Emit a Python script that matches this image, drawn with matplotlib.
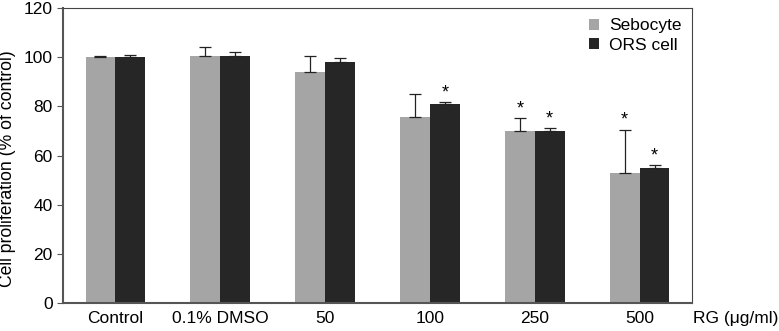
import numpy as np
import matplotlib.pyplot as plt

plt.rcParams['font.family'] = ['Liberation Sans', 'DejaVu Sans']

groups = ['Control', '0.1% DMSO', '50', '100', '250', '500']
sebocyte = [100, 100.5, 94, 75.5, 70, 53]
sebocyte_err = [0.3, 3.5, 6.6, 9.5, 5.3, 17.5]
ors = [100, 100.5, 98.2, 80.8, 70, 55]
ors_err = [1.0, 1.5, 1.3, 1.0, 1.0, 1.0]
seb_star = [False, False, False, False, True, True]
ors_star = [False, False, False, True, True, True]

fig = plt.figure(figsize=(7.79, 3.31), dpi=100)
ax = fig.add_axes([63/779, 1-303/331, 629/779, 295/331])

x = np.arange(len(groups))
w = 0.285
ax.bar(x - w/2, sebocyte, w, color='#a5a5a5', label='Sebocyte', zorder=2)
ax.bar(x + w/2, ors, w, color='#262626', label='ORS cell', zorder=2)
ax.errorbar(x - w/2, sebocyte, yerr=[np.zeros(len(x)), sebocyte_err], fmt='none',
            ecolor='#222222', elinewidth=0.9, capsize=4, capthick=0.9, zorder=3)
ax.errorbar(x + w/2, ors, yerr=[np.zeros(len(x)), ors_err], fmt='none',
            ecolor='#222222', elinewidth=0.9, capsize=4, capthick=0.9, zorder=3)

for i in range(len(x)):
    if seb_star[i]:
        ax.text(x[i] - w/2, sebocyte[i] + sebocyte_err[i] + 0.3, '*', ha='center',
                va='bottom', fontsize=13)
    if ors_star[i]:
        ax.text(x[i] + w/2, ors[i] + ors_err[i] + 0.3, '*', ha='center',
                va='bottom', fontsize=13)

ax.set_xlim(-0.5, len(groups) - 0.5)
ax.set_ylim(0, 120)
ax.set_yticks(range(0, 121, 20))
ax.set_xticks(x)
ax.set_xticklabels(groups)
ax.tick_params(axis='x', length=0, pad=6, labelsize=12.5)
ax.tick_params(axis='y', direction='out', length=4, labelsize=12.5, color='#555555')
ax.set_ylabel('Cell proliferation (% of control)', fontsize=12.7)
ax.yaxis.set_label_coords(-0.074, 0.455)

for s in ['left', 'bottom']:
    ax.spines[s].set_color('#555555')
    ax.spines[s].set_linewidth(1.5)
for s in ['top', 'right']:
    ax.spines[s].set_color('#444444')
    ax.spines[s].set_linewidth(0.8)

ax.text(1.07, -0.027, 'RG (\u03bcg/ml)', transform=ax.transAxes, ha='center',
        va='top', fontsize=12.5)

leg = ax.legend(loc='upper right', frameon=False, fontsize=12.5, handlelength=0.55,
                handleheight=0.55, handletextpad=0.6, borderaxespad=0.2,
                labelspacing=0.25)

fig.savefig('out.png', dpi=100)
